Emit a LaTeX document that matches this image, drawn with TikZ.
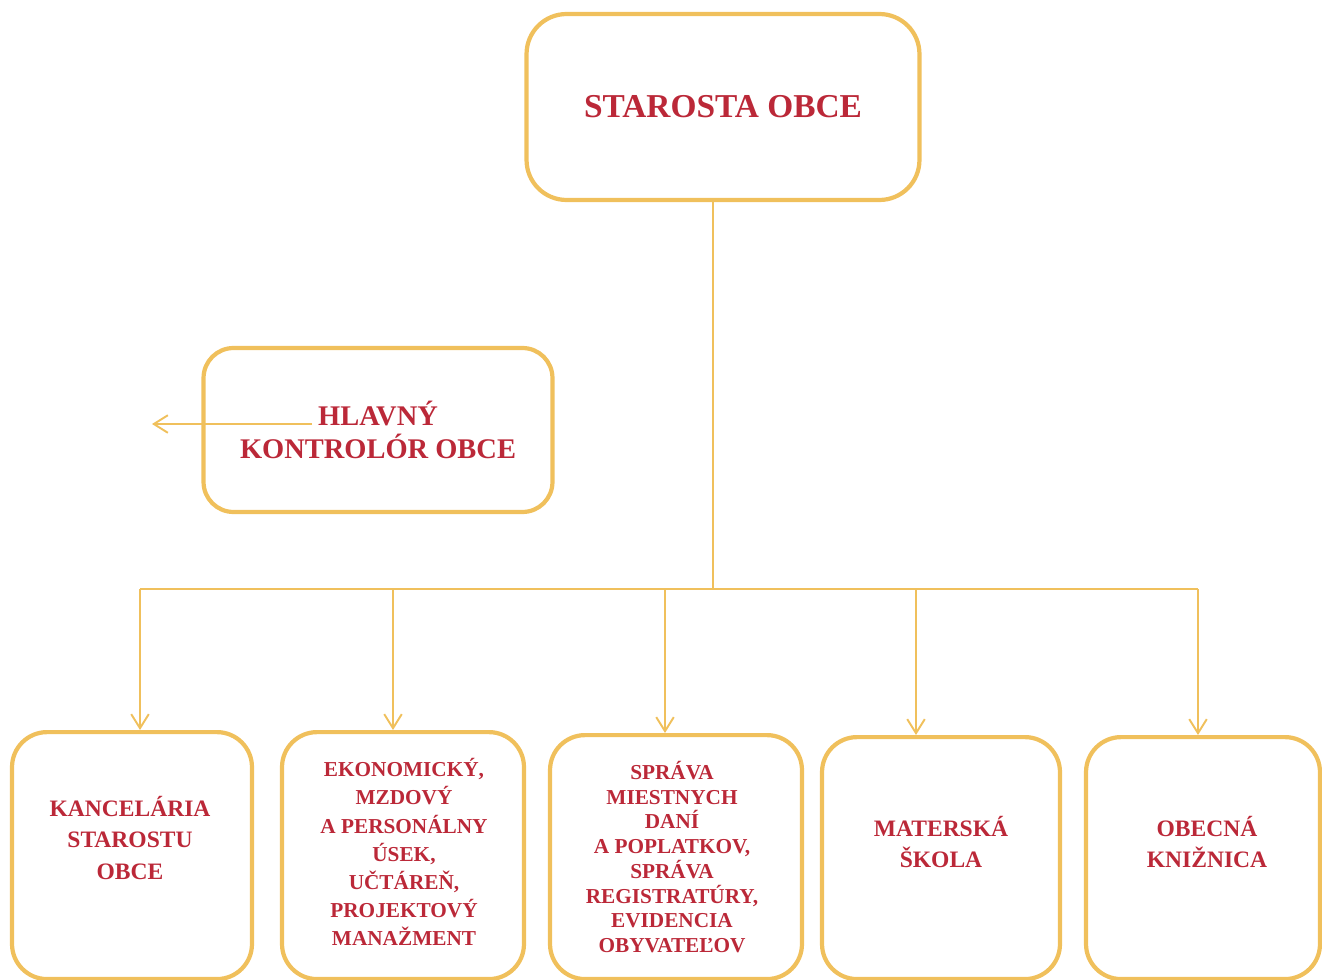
\documentclass[tikz,border=0pt]{standalone}
\usepackage{fontspec}
\setmainfont{Liberation Serif}
\usepackage{xcolor}
\usetikzlibrary{arrows.meta}
\definecolor{goldline}{RGB}{240,192,92}
\definecolor{darkred}{RGB}{187,40,56}

\begin{document}
\begin{tikzpicture}[x=0.02cm, y=-0.02cm,
% common options for the boxes:
box/.style = {draw=goldline, line width=2.4pt, rounded corners=0.7cm, inner sep=0},
% common options for the texts:
boxtext/.style = {text=darkred, align=center, inner sep=0},
% common options for the connectors:
link/.style = {draw=goldline, line width=1.1pt},
arrowed/.style = {-{Straight Barb[length=8pt,width=10pt]}}]
\useasboundingbox (0,0) rectangle (1322,980);
\node[box, boxtext, rounded corners=0.8cm, minimum width=7.86cm, minimum height=3.72cm,
      font=\fontsize{19}{22}\selectfont\bfseries] (S0) at (723,107) {STAROSTA OBCE};
\node[box, boxtext, rounded corners=0.6cm, minimum width=6.98cm, minimum height=3.28cm,
      font=\fontsize{16.2}{18.7}\selectfont\bfseries] (K0) at (378,430) {HLAVNÝ\\KONTROLÓR OBCE};
\node[box, minimum width=4.8cm, minimum height=4.94cm, anchor=north] (B1) at (132,730) {};
\node[box, minimum width=4.84cm, minimum height=4.94cm, anchor=north] (B2) at (403,730) {};
\node[box, minimum width=5.04cm, minimum height=4.88cm, anchor=north] (B3) at (676,733) {};
\node[box, minimum width=4.76cm, minimum height=4.84cm, anchor=north] (B4) at (941,735) {};
\node[box, minimum width=4.68cm, minimum height=4.84cm, anchor=north] (B5) at (1203,735) {};
\node[boxtext, font=\fontsize{13.4}{18}\selectfont\bfseries] (T1) at (130,838) {KANCELÁRIA\\STAROSTU\\OBCE};
\node[boxtext, font=\fontsize{12.1}{16}\selectfont\bfseries] (T2) at (404,852) {EKONOMICKÝ,\\MZDOVÝ\\A PERSONÁLNY\\ÚSEK,\\UČTÁREŇ,\\PROJEKTOVÝ\\MANAŽMENT};
\node[boxtext, font=\fontsize{12.1}{14.1}\selectfont\bfseries] (T3) at (672,857) {SPRÁVA\\MIESTNYCH\\DANÍ\\A POPLATKOV,\\SPRÁVA\\REGISTRATÚRY,\\EVIDENCIA\\OBYVATEĽOV};
\node[boxtext, font=\fontsize{13.4}{18}\selectfont\bfseries] (T4) at (941,842) {MATERSKÁ\\ŠKOLA};
\node[boxtext, font=\fontsize{13.4}{18}\selectfont\bfseries] (T5) at (1207,842) {OBECNÁ\\KNIŽNICA};
% arrow out of the controller box
\coordinate (K1) at (312,424);
\coordinate (K2) at (152,424);
\draw[link, arrowed] (K1) to (K2);
% tree below the mayor
\coordinate (J0) at (713,589);
\coordinate (JL) at (140,589);
\coordinate (JR) at (1198,589);
\coordinate (D2) at (393,589);
\coordinate (D3) at (665,589);
\coordinate (D4) at (916,589);
\draw[link] (J0 |- S0.south) to (J0);
\draw[link] (JL) to (JR);
\draw[link, arrowed] (JL) to (JL |- B1.north);
\draw[link, arrowed] (D2) to (D2 |- B2.north);
\draw[link, arrowed] (D3) to (D3 |- B3.north);
\draw[link, arrowed] (D4) to (D4 |- B4.north);
\draw[link, arrowed] (JR) to (JR |- B5.north);
\end{tikzpicture}
\end{document}
